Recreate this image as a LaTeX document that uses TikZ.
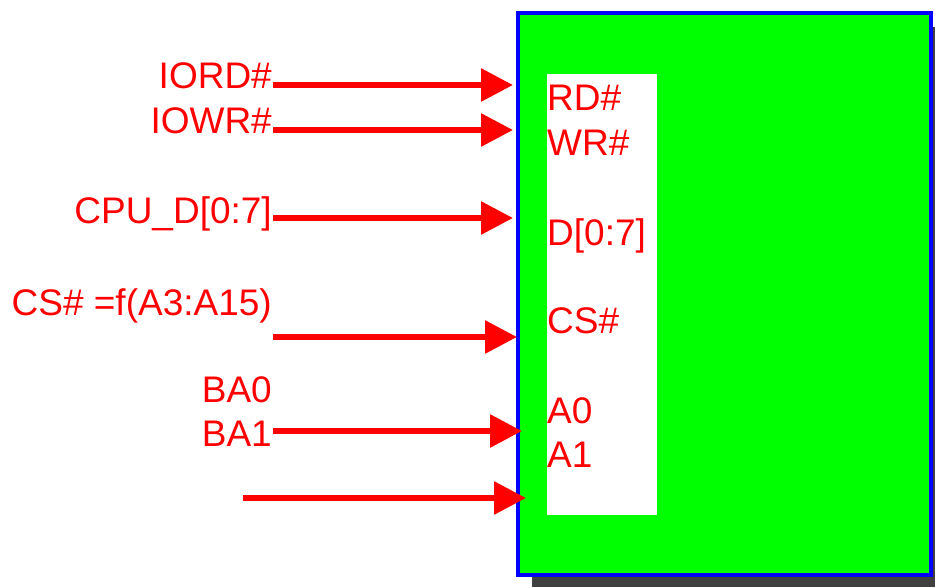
\documentclass[tikz,border=0pt]{standalone}
\usepackage{fontspec}
\setmainfont{Liberation Sans}
\usetikzlibrary{arrows.meta}
\definecolor{sigred}{RGB}{255,0,0}
\definecolor{chipgreen}{RGB}{0,255,0}
\definecolor{chipblue}{RGB}{0,0,255}
\definecolor{shadowgray}{RGB}{64,64,64}
\tikzset{
  lbl/.style={text=sigred, inner sep=0pt, font=\fontsize{37}{41}\selectfont},
  sig/.style={draw=sigred, line width=6pt, -{Triangle[length=32pt,width=32pt]}},
}
\begin{document}
\begin{tikzpicture}[x=1pt,y=-1pt]
\useasboundingbox (0,0) rectangle (935,587);
% shadow
\fill[shadowgray] (532,27) rectangle (935,587);
% chip
\draw[chipblue, fill=chipgreen, line width=4pt] (518,12.5) rectangle (930.5,575);
% white pin panel
\fill[white] (547,74) rectangle (657,515);
% left labels
\node[lbl, anchor=base east] (iord) at (272,88) {IORD\#};
\node[lbl, anchor=base east] (iowr) at (272,133) {IOWR\#};
\node[lbl, anchor=base east] (cpud) at (272,223) {CPU\_D[0:7]};
\node[lbl, anchor=base east] (csf) at (272,315) {CS\# =f(A3:A15)};
\node[lbl, anchor=base east] (ba0) at (272,402) {BA0};
\node[lbl, anchor=base east] (ba1) at (272,446) {BA1};
% pin labels
\node[lbl, anchor=base west] (rd) at (547,110) {RD\#};
\node[lbl, anchor=base west] (wr) at (547,155) {WR\#};
\node[lbl, anchor=base west] (d) at (547,245) {D[0:7]};
\node[lbl, anchor=base west] (cs) at (547,333) {CS\#};
\node[lbl, anchor=base west] (a0) at (547,423) {A0};
\node[lbl, anchor=base west] (a1) at (547,467) {A1};
% arrow endpoints
\coordinate (s1) at (273,85);  \coordinate (e1) at (513,85);
\coordinate (s2) at (273,130); \coordinate (e2) at (513,130);
\coordinate (s3) at (273,218); \coordinate (e3) at (513,218);
\coordinate (s4) at (273,337); \coordinate (e4) at (517,337);
\coordinate (s5) at (273,431); \coordinate (e5) at (522,431);
\coordinate (s6) at (243,498); \coordinate (e6) at (526,498);
\draw[sig] (s1) -- (e1);
\draw[sig] (s2) -- (e2);
\draw[sig] (s3) -- (e3);
\draw[sig] (s4) -- (e4);
\draw[sig] (s5) -- (e5);
\draw[sig] (s6) -- (e6);
\end{tikzpicture}
\end{document}
